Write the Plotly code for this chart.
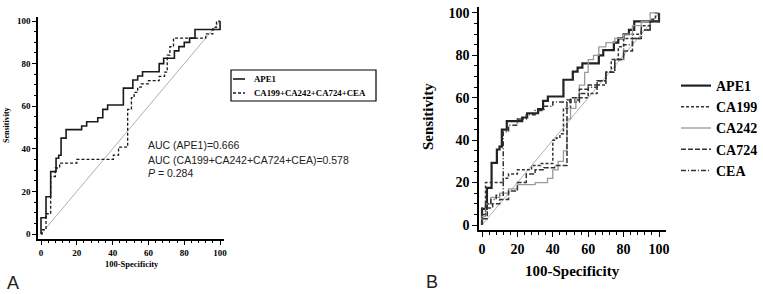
import plotly.graph_objects as go

W, H = 763, 294

# ---------------- Panel A data ----------------
a_ape1_x = [0, 0, 2.8, 5.4, 8.4, 9.9, 11.2, 14, 22.7, 25.5, 31.7, 34.5, 37.2, 46, 51.3, 54, 56.7, 66, 68.5, 74.5, 77, 80, 83, 86, 100]
a_ape1_y = [0, 7.6, 17.5, 29.3, 35.6, 37, 45, 49, 50.7, 52.7, 54.6, 58.5, 60.6, 68.5, 72.3, 74.2, 76.2, 80, 82.5, 86, 88, 90, 92, 96, 100]
a_combo_x = [0, 0.6, 2.8, 5.4, 8, 10.4, 20, 40.4, 43.3, 48.4, 50.5, 52, 54, 56, 60, 66, 69, 70.5, 72, 74, 88, 92, 96, 98, 100]
a_combo_y = [0, 2, 9.5, 27, 31, 33.3, 35, 37, 40.8, 58.5, 64, 66.5, 69, 70.5, 72, 74, 76, 84, 88, 92, 92, 94, 97, 100, 100]
a_names = ["APE1", "CA199+CA242+CA724+CEA"]

# ---------------- Panel B data ----------------
b_ape1_x = a_ape1_x
b_ape1_y = a_ape1_y
b_ca199_x = [0, 0, 2, 12, 15, 20, 28, 33, 40, 42, 44, 46, 50, 55, 60, 65, 70, 73, 77, 80, 85, 90, 95, 98, 100]
b_ca199_y = [0, 8, 20, 22, 24, 26, 28, 29, 40, 41, 43, 55, 58, 60, 62, 66, 72, 78, 84, 88, 90, 94, 97, 100, 100]
b_ca242_x = [0, 0, 2, 5, 10, 15, 20, 30, 37, 40, 43, 46, 48, 50, 53, 55, 58, 60, 63, 66, 70, 75, 80, 85, 90, 95, 100]
b_ca242_y = [0, 4, 10, 13, 15, 17, 19, 20, 22, 26, 30, 35, 50, 55, 60, 66, 72, 78, 80, 84, 86, 88, 90, 94, 96, 100, 100]
b_ca724_x = [0, 0, 3, 6, 10, 15, 20, 25, 30, 35, 41, 48, 50, 55, 60, 65, 70, 75, 80, 85, 90, 95, 100]
b_ca724_y = [0, 3, 8, 10, 12, 16, 20, 24, 26, 27, 28, 59, 60, 64, 66, 68, 72, 78, 82, 88, 92, 96, 100]
b_cea_x = [0, 0, 2, 5, 8, 12, 15, 20, 25, 30, 35, 40, 50, 55, 60, 65, 70, 75, 80, 85, 90, 95, 100]
b_cea_y = [0, 5, 10, 12, 14, 44, 47, 50, 52, 54, 56, 58, 59, 62, 65, 68, 72, 78, 85, 88, 92, 96, 100]
b_names = ["APE1", "CA199", "CA242", "CA724", "CEA"]

ticks = [0, 20, 40, 60, 80, 100]
diag = [0, 100]


def px(x):
    return x / W


def py(y):
    return 1 - y / H


SERIF = "Liberation Serif"
SANS = "Liberation Sans"

fig = go.Figure()

a_styles = [dict(color="#1a1a1a", width=1.6), dict(color="#1a1a1a", width=1.3, dash="3px,2px")]

# Panel A
fig.add_trace(go.Scatter(x=diag, y=diag, mode="lines", line=dict(color="#b0b0b0", width=1),
                         showlegend=False, xaxis="x", yaxis="y", hoverinfo="skip"))
for name, (xs, ys), st in zip(a_names, [(a_ape1_x, a_ape1_y), (a_combo_x, a_combo_y)], a_styles):
    fig.add_trace(go.Scatter(x=xs, y=ys, mode="lines", line_shape="hv", line=st, name=name,
                             xaxis="x", yaxis="y", showlegend=False))

# Panel B
fig.add_trace(go.Scatter(x=diag, y=diag, mode="lines", line=dict(color="#b0b0b0", width=1),
                         showlegend=False, xaxis="x2", yaxis="y2", hoverinfo="skip"))
b_styles = [
    dict(color="#222222", width=2.2),
    dict(color="#333333", width=1.5, dash="3px,2px"),
    dict(color="#9a9a9a", width=1.3),
    dict(color="#333333", width=1.5, dash="5px,2px"),
    dict(color="#333333", width=1.5, dash="5px,2px,1px,2px"),
]
b_data = [(b_ape1_x, b_ape1_y), (b_ca199_x, b_ca199_y), (b_ca242_x, b_ca242_y),
          (b_ca724_x, b_ca724_y), (b_cea_x, b_cea_y)]
for name, (xs, ys), st in zip(b_names, b_data, b_styles):
    fig.add_trace(go.Scatter(x=xs, y=ys, mode="lines", line_shape="hv", line=st, name=name,
                             xaxis="x2", yaxis="y2", showlegend=True))


def axis_common(font_size, ticklen, minor_dtick):
    return dict(
        showgrid=False, zeroline=False, showline=True, linecolor="black", linewidth=1.5,
        ticks="outside", ticklen=ticklen, tickwidth=1.2, tickcolor="black",
        tickvals=ticks, ticktext=[str(t) for t in ticks],
        tickfont=dict(family=SERIF, size=font_size, color="black", weight="bold"),
        minor=dict(ticks="outside", ticklen=ticklen * 0.6, dtick=minor_dtick, tick0=0,
                   tickcolor="black", tickwidth=1),
        mirror=False, fixedrange=True, automargin=False,
    )


xa = axis_common(9, 4, 4)
xa.update(domain=[px(38), px(224)], range=[-1.68, 102.2], anchor="y")
ya = axis_common(9, 4, 5)
ya.update(domain=[py(239), py(17)], range=[-2.35, 101.9], anchor="x")
xb = axis_common(14, 5, 4)
xb.update(domain=[px(479), px(666)], range=[-1.7, 103.95], anchor="y2")
yb = axis_common(14, 5, 5)
yb.update(domain=[py(230), py(7)], range=[-2.36, 102.8], anchor="x2")

fig.update_layout(
    width=W, height=H, margin=dict(l=0, r=0, t=0, b=0, autoexpand=False),
    paper_bgcolor="white", plot_bgcolor="white",
    xaxis=xa, yaxis=ya, xaxis2=xb, yaxis2=yb,
    legend=dict(x=px(676), y=py(70), xanchor="left", yanchor="top",
                bgcolor="rgba(0,0,0,0)", borderwidth=0,
                font=dict(family=SERIF, size=14, color="black", weight="bold"),
                itemwidth=30, tracegroupgap=0),
    showlegend=True,
)

# ---- Manual legend for panel A (box + samples + labels) ----
shapes = []
shapes.append(dict(type="rect", xref="paper", yref="paper", x0=px(231), x1=px(376), y0=py(101), y1=py(70),
                   line=dict(color="black", width=1.2), fillcolor="white", layer="above"))
ann = []
for i, (name, st) in enumerate(zip(a_names, a_styles)):
    yy = 79 + 14 * i
    shapes.append(dict(type="line", xref="paper", yref="paper", x0=px(233), x1=px(245), y0=py(yy), y1=py(yy),
                       line=dict(color=st["color"], width=st["width"], dash=st.get("dash", "solid")),
                       layer="above"))
    ann.append(dict(x=px(252), y=py(yy), text=name, showarrow=False, xanchor="left", yanchor="middle",
                    font=dict(family=SERIF, size=8.8, color="black", weight="bold"),
                    xref="paper", yref="paper"))
fig.update_layout(shapes=shapes)


def label(x, y, text, size, family, angle=0, xanchor="center", color="black", weight="bold"):
    return dict(x=px(x), y=py(y), text=text, textangle=angle, showarrow=False,
                xanchor=xanchor, yanchor="middle", xref="paper", yref="paper",
                font=dict(family=family, size=size, color=color, weight=weight))


# Panel A axis titles
ann.append(label(7, 125, "Sensitivity", 8, SERIF, angle=-90))
ann.append(label(132, 264, "100-Specificity", 8.5, SERIF))
# Panel A stats text
for txt, yy in [("AUC (APE1)=0.666", 145), ("AUC (CA199+CA242+CA724+CEA)=0.578", 160),
                ("<i>P</i> = 0.284", 173)]:
    ann.append(label(146, yy, txt, 10.5, SANS, xanchor="left", color="#222", weight="normal"))
# Panel B axis titles
ann.append(label(428, 117, "Sensitivity", 15, SERIF, angle=-90))
ann.append(label(572, 271, "100-Specificity", 15, SERIF))
# Panel letters
ann.append(label(13, 283, "A", 18, SANS, color="#222", weight="normal"))
ann.append(label(432, 282, "B", 18, SANS, color="#222", weight="normal"))
fig.update_layout(annotations=ann)

fig.write_html("out.html", config={"displayModeBar": False},
               post_script="document.body.style.margin='0';")
